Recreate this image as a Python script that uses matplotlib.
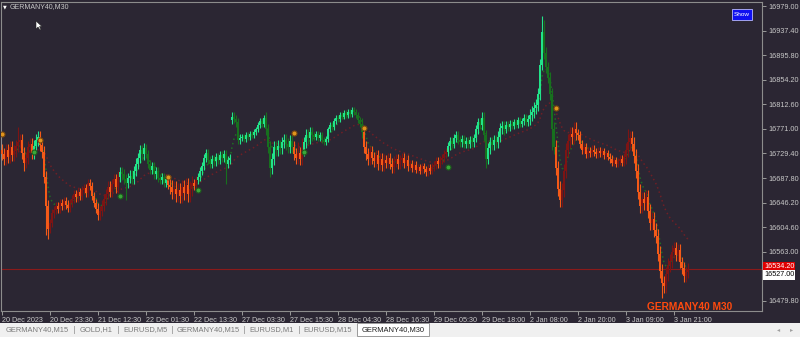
import matplotlib
matplotlib.use("Agg")
import matplotlib.pyplot as plt
import numpy as np
import pandas as pd
from matplotlib.patches import Rectangle, Polygon

closes = [
    16728, 16720, 16736, 16724, 16740, 16726, 16733, 16742, 16748, 16752, 16730, 16714,
    16722, 16740, 16746, 16730, 16742, 16752, 16757, 16744, 16732, 16690, 16640, 16602,
    16612, 16628, 16634, 16641, 16636, 16645, 16640, 16649, 16643, 16637, 16646, 16652,
    16660, 16655, 16664, 16658, 16667, 16671, 16663, 16680, 16674, 16658, 16645, 16636,
    16626, 16632, 16641, 16652, 16661, 16673, 16664, 16678, 16686, 16672, 16690, 16698,
    16694, 16686, 16680, 16688, 16692, 16686, 16700, 16712, 16722, 16735, 16728, 16738,
    16728, 16712, 16702, 16708, 16694, 16700, 16688, 16684, 16690, 16680, 16686, 16676,
    16672, 16664, 16670, 16660, 16668, 16658, 16672, 16662, 16676, 16660, 16670, 16680,
    16674, 16684, 16690, 16700, 16708, 16722, 16730, 16718, 16712, 16720, 16716, 16724,
    16718, 16726, 16722, 16728, 16712, 16718, 16722, 16792, 16788, 16782, 16752, 16756,
    16758, 16754, 16760, 16757, 16763, 16760, 16766, 16770, 16778, 16785, 16780, 16790,
    16770, 16740, 16705, 16720, 16740, 16735, 16742, 16738, 16748, 16752, 16745, 16740,
    16750, 16740, 16728, 16722, 16730, 16720, 16735, 16748, 16760, 16756, 16765, 16760,
    16758, 16762, 16756, 16760, 16752, 16748, 16754, 16770, 16778, 16774, 16784, 16790,
    16788, 16795, 16792, 16798, 16795, 16800, 16796, 16803, 16799, 16794, 16786, 16780,
    16765, 16740, 16728, 16720, 16732, 16722, 16716, 16726, 16712, 16720, 16710, 16718,
    16714, 16722, 16712, 16706, 16716, 16720, 16712, 16718, 16722, 16714, 16718, 16708,
    16712, 16704, 16710, 16702, 16706, 16700, 16708, 16703, 16698, 16705, 16700, 16707,
    16710, 16716, 16712, 16718, 16722, 16728, 16732, 16742, 16750, 16745, 16756, 16760,
    16752, 16748, 16754, 16746, 16750, 16745, 16752, 16748, 16756, 16770, 16782, 16778,
    16790, 16760, 16720, 16738, 16748, 16744, 16752, 16748, 16758, 16772, 16776, 16770,
    16778, 16774, 16780, 16776, 16782, 16778, 16786, 16780, 16784, 16790, 16782, 16788,
    16795, 16800, 16806, 16812, 16830, 16880, 16935, 16900, 16875, 16858, 16830, 16770,
    16740, 16705, 16670, 16650, 16668, 16700, 16735, 16750, 16762, 16758, 16770, 16764,
    16760, 16745, 16735, 16740, 16728, 16734, 16730, 16736, 16732, 16728, 16734, 16730,
    16733, 16726, 16730, 16724, 16720, 16714, 16718, 16712, 16716, 16720, 16714, 16724,
    16735, 16748, 16755, 16745, 16725, 16700, 16665, 16640, 16652, 16645, 16655, 16632,
    16612, 16618, 16600, 16590, 16560, 16530, 16510, 16505, 16525, 16540, 16548, 16562,
    16570, 16558, 16566, 16545, 16535, 16522, 16528, 16534.2,
]
first_open = 16735
open_gaps = {115: 16786}
# ampiezza tipica delle ombre per ogni gruppo di 12 barre (punti)
row_wick = [10, 10, 7, 7, 9, 9, 7, 12, 7, 7, 5, 10, 10, 5, 5,
            10, 9, 6, 7, 7, 9, 6, 10, 12, 7, 6, 12, 12, 10]
wicks = {  # barra: (massimo, minimo)
    8: (16775, 16740), 11: (16730, 16700), 22: (16690, 16592), 23: (16640, 16585),
    44: (16686, 16670), 62: (16690, 16650), 112: (16728, 16678), 115: (16800, 16786),
    134: (16740, 16690), 148: (16748, 16718), 150: (16755, 16718), 240: (16800, 16778),
    242: (16760, 16705), 270: (16962, 16880), 271: (16955, 16895), 275: (16830, 16735),
    279: (16670, 16640), 313: (16770, 16735), 327: (16600, 16580), 330: (16530, 16484),
}
# inversioni di trend: (barra, direzione, prezzo del pallino)
flips = [(0, -1, 16762), (16, 1, 16732), (19, -1, 16752), (59, 1, 16657),
         (83, -1, 16690), (98, 1, 16668), (146, -1, 16764), (151, 1, 16732),
         (181, -1, 16773), (223, 1, 16707), (277, -1, 16806)]

yticks = [16979.00 - 41.6 * k for k in range(13)]
xtick_labels = ["20 Dec 2023", "20 Dec 23:30", "21 Dec 12:30", "22 Dec 01:30",
                "22 Dec 13:30", "27 Dec 03:30", "27 Dec 15:30", "28 Dec 04:30",
                "28 Dec 16:30", "29 Dec 05:30", "29 Dec 18:00", "2 Jan 08:00",
                "2 Jan 20:00", "3 Jan 09:00", "3 Jan 21:00"]
tabs = ["GERMANY40,M15", "GOLD,H1", "EURUSD,M5", "GERMANY40,M15",
        "EURUSD,M1", "EURUSD,M15", "GERMANY40,M30"]
symbol = "GERMANY40,M30"
bid_price = 16534.20
ask_price = 16527.00

BG = "#2b2633"
plt.rcParams["font.family"] = ["Liberation Sans", "DejaVu Sans"]

W, H = 800, 337
fig = plt.figure(figsize=(8, 3.37), dpi=100, facecolor=BG)


def fx(px):
    return px / W


def fy(py):
    return 1 - py / H


ax = fig.add_axes([fx(1), fy(311), fx(761), 309 / H], facecolor=BG)

# costruzione candele
c = np.array(closes, dtype=float)
n = len(c)
x = np.arange(n)
o = np.r_[first_open, c[:-1]]
for b, v in open_gaps.items():
    o[b] = v
ext = np.repeat(row_wick, 12)[:n]
hi = np.maximum(o, c) + ext
lo = np.minimum(o, c) - ext
for b, (h, l) in wicks.items():
    hi[b] = max(hi[b], h)
    lo[b] = min(lo[b], l)

trend = np.zeros(n)
for i, (b, d, _) in enumerate(flips):
    end = flips[i + 1][0] if i + 1 < len(flips) else n
    trend[b:end] = d

cols = []
for i in range(n):
    up = c[i] >= o[i]
    if trend[i] > 0:
        cols.append("#22e38a" if up else "#17701e")
    else:
        cols.append("#7d1414" if up else "#f45a18")

# linee tratteggiate (medie mobili)
s = pd.Series(c)
fast = s.ewm(span=6, adjust=False).mean()
slow = s.ewm(span=28, adjust=False).mean()
ax.plot(x, slow, color="#6e1f26", lw=1.1, ls=(0, (1, 2)), zorder=1)
ax.plot(x, fast, color="#1f6e24", lw=1.1, ls=(0, (1, 2)), zorder=1)

ax.vlines(x, lo, hi, colors=cols, lw=0.8, zorder=2)
body = np.maximum(np.abs(c - o), 1.2)
ax.bar(x, body, bottom=np.minimum(o, c), width=0.9, color=cols, lw=0, zorder=3)

for b, d, p in flips:
    if d > 0:
        ax.plot(b, p, "o", ms=3.6, mfc="#3aa83a", mec="#1d5a1d", mew=0.8, zorder=4)
    else:
        ax.plot(b, p, "o", ms=3.6, mfc="#e0951e", mec="#7a4a10", mew=0.8, zorder=4)

ax.axhline(bid_price, color="#8b1a1a", lw=0.8, zorder=1)

ax.set_xlim(-0.5, 380)
ax.set_ylim(16462.8, 16985.8)

ax.set_xticks(np.arange(len(xtick_labels)) * 24)
ax.set_xticklabels(xtick_labels, ha="left")
ax.set_yticks(yticks)
# la tacca 16521.40 e' coperta dalle etichette di prezzo
ax.set_yticklabels([f"{v:.2f}" if abs(v - 16521.4) > 1 else "" for v in yticks])
ax.yaxis.tick_right()
ax.tick_params(axis="both", colors="#9a9a9a", labelcolor="#c8c8c8", length=3,
               width=0.7, labelsize=5.2, pad=1.5)
for sp in ax.spines.values():
    sp.set_color("#8c8c8c")
    sp.set_linewidth(0.8)

# etichette prezzo sull'asse destro
fig.text(fx(764), fy(267), f"{bid_price:.2f}", fontsize=5.2, color="white",
         va="center", ha="left",
         bbox=dict(boxstyle="square,pad=0.15", fc="#e00000", ec="none"), zorder=10)
fig.text(fx(764), fy(275), f"{ask_price:.2f}", fontsize=5.2, color="black",
         va="center", ha="left",
         bbox=dict(boxstyle="square,pad=0.15", fc="white", ec="none"), zorder=11)

# intestazione in alto a sinistra
fig.text(fx(3), fy(6.5), "▼", fontsize=3.5, color="white", va="center",
         family="DejaVu Sans")
fig.text(fx(10), fy(6.5), symbol, fontsize=5, color="#c8c8c8", va="center")

# cursore del mouse
fig.patches.append(Polygon([[fx(36), fy(21)], [fx(36), fy(29)], [fx(38), fy(27)],
                            [fx(40), fy(30)], [fx(41), fy(29.5)], [fx(39.5), fy(26.5)],
                            [fx(42), fy(26.5)]], closed=True, fc="white", ec="#222222",
                           lw=0.4, transform=fig.transFigure, zorder=12))

# pulsante "Show"
fig.patches.append(Rectangle((fx(732), fy(19.5)), fx(19.5), 10.5 / H, fc="#1010f0",
                             ec="#b8b8ff", lw=0.6, transform=fig.transFigure, zorder=12))
fig.text(fx(741.8), fy(14.2), "Show", fontsize=4.6, color="white", ha="center",
         va="center", zorder=13)

# nome simbolo in basso a destra
fig.text(fx(690), fy(306.5), "GERMANY40 M30", fontsize=7.3, weight="bold",
         color="#ff4a0e", ha="center", va="center", zorder=13)

# barra delle schede
fig.patches.append(Rectangle((0, 0), 1, fy(322.5), fc="#f0f0f0", ec="none",
                             transform=fig.transFigure, zorder=5))
fig.patches.append(Rectangle((fx(357), fy(336)), fx(72), 13.5 / H, fc="white",
                             ec="#9a9a9a", lw=0.7, transform=fig.transFigure, zorder=6))
tab_centers = [37, 96, 145, 208, 272, 328, 393]
for sx in [74, 118, 172, 244, 299]:
    fig.lines.append(plt.Line2D([fx(sx), fx(sx)], [fy(333), fy(326)], color="#a8a8a8",
                                lw=0.7, transform=fig.transFigure, zorder=6))
for i, (t, cx) in enumerate(zip(tabs, tab_centers)):
    col = "#202020" if i == len(tabs) - 1 else "#7a7a7a"
    fig.text(fx(cx), fy(330), t, fontsize=5.4, color=col, ha="center", va="center",
             zorder=7)
fig.text(fx(779), fy(330), "◂", fontsize=4.5, color="#a0a0a0", ha="center",
         va="center", family="DejaVu Sans", zorder=7)
fig.text(fx(792), fy(330), "▸", fontsize=4.5, color="#a0a0a0", ha="center",
         va="center", family="DejaVu Sans", zorder=7)

fig.savefig("out.png", dpi=100, facecolor=BG)
